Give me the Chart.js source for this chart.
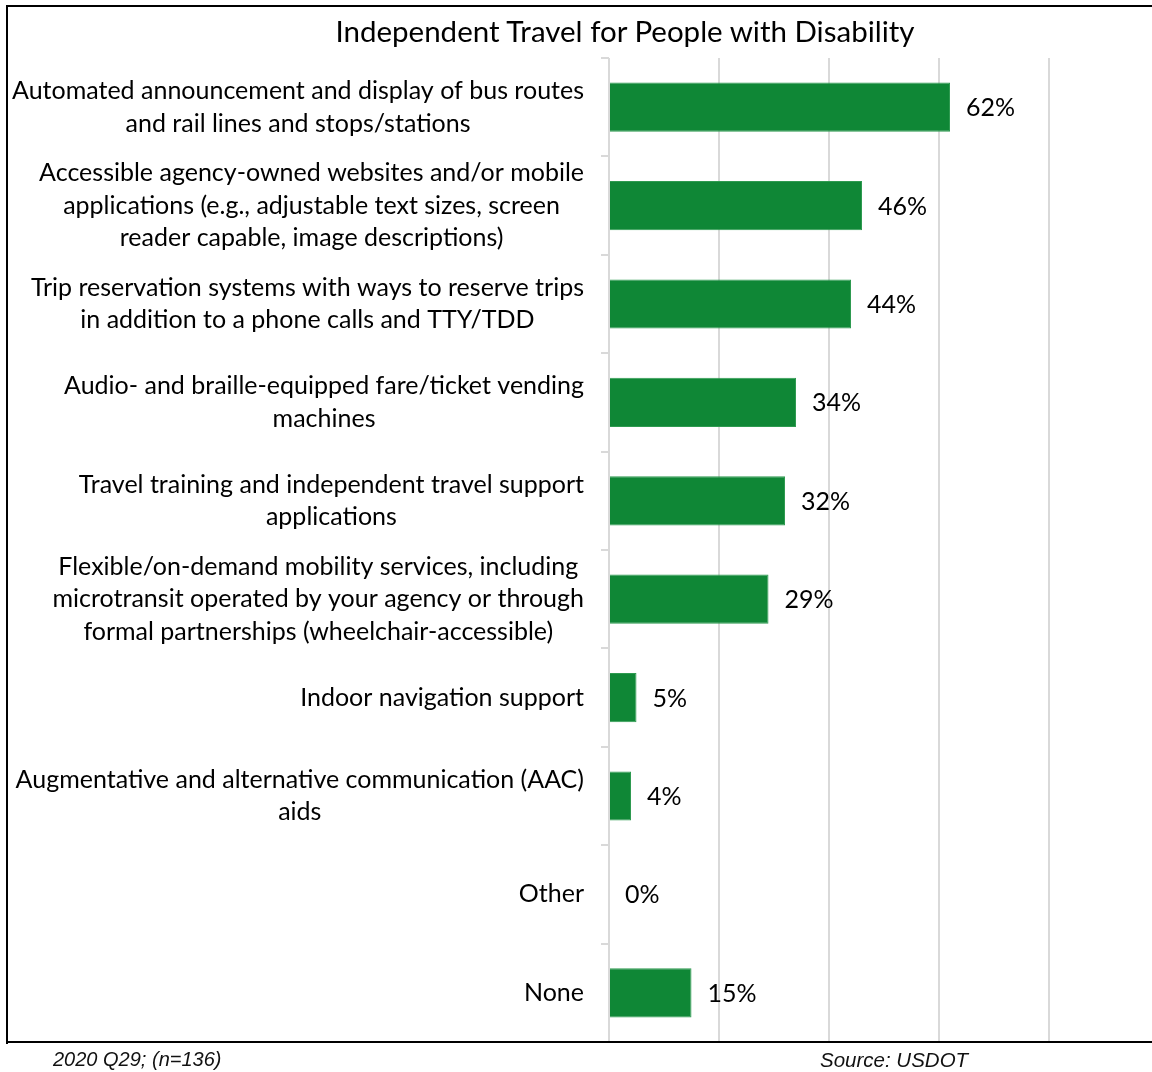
<!DOCTYPE html>
<html>
<head>
<meta charset="utf-8">
<script src="https://cdn.jsdelivr.net/npm/chart.js@4/dist/chart.umd.min.js"></script>
<style>
  html, body { margin: 0; padding: 0; background: #fff; overflow: hidden; width: 1152px; height: 1072px; }
  #wrap { position: relative; width: 1152px; height: 1072px; overflow: hidden; }
  #c { position: absolute; left: 0; top: 0; }
  .ln { position: absolute; background: #000; pointer-events: none; }
  #lt { left: 6px; top: 5px; width: 1146px; height: 2px; }
  #ll { left: 6px; top: 5px; width: 2px; height: 1039px; }
  #lb { left: 6px; top: 1041px; width: 1146px; height: 2px; }
  .txt { position: absolute; white-space: nowrap; color: #000; }
  #title { left: 0; width: 1250px; top: 12px; text-align: center; font-family: Lato, sans-serif; font-size: 29.5px; line-height: 38px; }
  #note { left: 53px; top: 1048px; font-family: "Liberation Sans", Arial, sans-serif; font-style: italic; font-size: 20px; color: #111; }
  #src { left: 820px; top: 1048px; font-family: "Liberation Sans", Arial, sans-serif; font-style: italic; font-size: 20.5px; color: #111; }
</style>
</head>
<body>
<div id="wrap">
  <canvas id="c" width="1160" height="1072"></canvas>
  <div class="ln" id="lt"></div>
  <div class="ln" id="ll"></div>
  <div class="ln" id="lb"></div>
  <div class="txt" id="title">Independent Travel for People with Disability</div>
  <div class="txt" id="note">2020 Q29; (n=136)</div>
  <div class="txt" id="src">Source: USDOT</div>
</div>
<script>
const categories = [
  ["Automated announcement and display of bus routes", "and rail lines and stops/stations"],
  ["Accessible agency-owned websites and/or mobile", "applications (e.g., adjustable text sizes, screen", "reader capable, image descriptions)"],
  ["Trip reservation systems with ways to reserve trips", "in addition to a phone calls and TTY/TDD"],
  ["Audio- and braille-equipped fare/ticket vending", "machines"],
  ["Travel training and independent travel support", "applications"],
  ["Flexible/on-demand mobility services, including", "microtransit operated by your agency or through", "formal partnerships (wheelchair-accessible)"],
  ["Indoor navigation support"],
  ["Augmentative and alternative communication (AAC)", "aids"],
  ["Other"],
  ["None"]
];
const values = [62, 46, 44, 34, 32, 29, 5, 4, 0, 15];
const gridTicks = [0, 20, 40, 60, 80];

const LABEL_FONT = '25px Lato, sans-serif';
const LINE_H = 32.5;

const labelPlugin = {
  id: 'blockLabels',
  afterDraw(chart) {
    const ctx = chart.ctx;
    const y = chart.scales.y;
    const rightEdge = 584;
    ctx.save();
    ctx.font = LABEL_FONT;
    ctx.fillStyle = '#000';
    ctx.textBaseline = 'middle';
    ctx.textAlign = 'center';
    categories.forEach((lines, i) => {
      const cy = y.getPixelForValue(i);
      const w = Math.max(...lines.map(l => ctx.measureText(l).width));
      const cx = rightEdge - w / 2;
      const y0 = cy - (lines.length - 1) * LINE_H / 2;
      lines.forEach((l, k) => ctx.fillText(l, cx, y0 + k * LINE_H));
    });
    const meta = chart.getDatasetMeta(0);
    ctx.textAlign = 'left';
    meta.data.forEach((bar, i) => {
      ctx.fillText(values[i] + '%', bar.x + 16, bar.y + 1);
    });
    ctx.restore();
  }
};

new Chart(document.getElementById('c'), {
  type: 'bar',
  data: {
    labels: categories.map(c => c.join(' ')),
    datasets: [{
      data: values,
      backgroundColor: '#0F8736',
      borderColor: '#2E9A50',
      borderWidth: 1,
      borderSkipped: 'start',
      barPercentage: 0.5,
      categoryPercentage: 1.0
    }]
  },
  options: {
    indexAxis: 'y',
    responsive: false,
    animation: false,
    layout: { padding: { left: 601, right: 1, top: 58, bottom: 30 } },
    plugins: { legend: { display: false }, title: { display: false }, tooltip: { enabled: false } },
    scales: {
      x: {
        min: 0, max: 100,
        afterBuildTicks(s) { s.ticks = gridTicks.map(v => ({ value: v })); },
        afterFit(s) { s.height = 0; },
        ticks: { display: false },
        border: { display: false },
        grid: { color: '#d9d9d9', lineWidth: 2, drawTicks: false }
      },
      y: {
        afterFit(s) { s.width = 8; },
        ticks: { display: false },
        border: { display: false },
        grid: { offset: true, drawOnChartArea: false, drawTicks: true, tickLength: 8, color: '#d9d9d9', lineWidth: 2 }
      }
    }
  },
  plugins: [labelPlugin]
});
</script>
</body>
</html>
